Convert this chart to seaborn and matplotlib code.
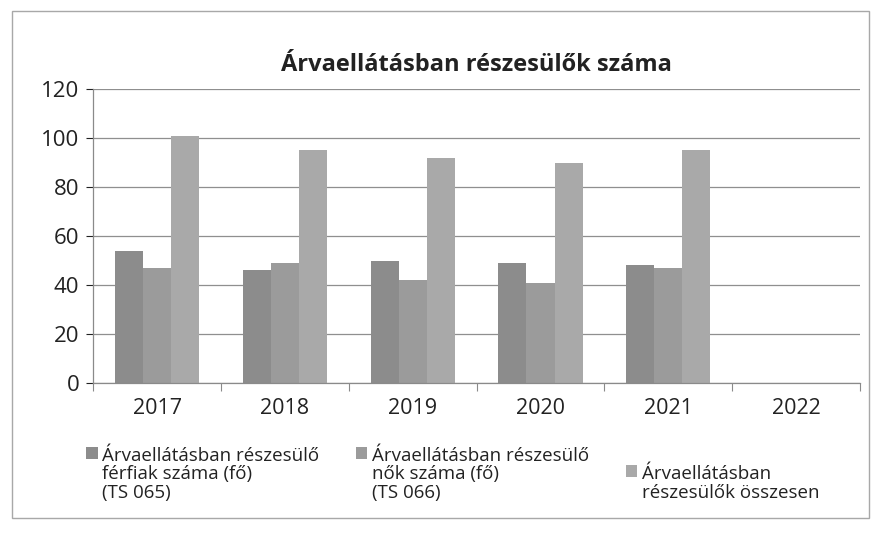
import numpy as np
import pandas as pd
import matplotlib
matplotlib.use("Agg")
import matplotlib.pyplot as plt
import seaborn as sns
from matplotlib.patches import Rectangle

years = ["2017", "2018", "2019", "2020", "2021", "2022"]
men = [54, 46, 50, 49, 48, np.nan]
women = [47, 49, 42, 41, 47, np.nan]
total = [101, 95, 92, 90, 95, np.nan]
series = [
    "Árvaellátásban részesülő\nférfiak száma (fő)\n(TS 065)",
    "Árvaellátásban részesülő\nnők száma (fő)\n(TS 066)",
    "Árvaellátásban\nrészesülők összesen",
]
colors = ["#8c8c8c", "#9b9b9b", "#a9a9a9"]
yticks = [0, 20, 40, 60, 80, 100, 120]

df = pd.DataFrame({
    "year": years * 3,
    "value": men + women + total,
    "series": [series[0]] * 6 + [series[1]] * 6 + [series[2]] * 6,
})

sns.set_theme(style="white")
plt.rcParams["font.family"] = ["Open Sans", "DejaVu Sans"]

fig = plt.figure(figsize=(8.81, 5.34), dpi=100)
ax = fig.add_axes([0.106, 0.283, 0.870, 0.550])

sns.barplot(data=df, x="year", y="value", hue="series", hue_order=series,
            palette=colors, width=0.66, gap=0, saturation=1, ax=ax,
            edgecolor="none", linewidth=0, legend=True)

ax.set_ylim(0, 120)
ax.set_yticks(yticks)
ax.set_xlim(-0.5, len(years) - 0.5)
ax.yaxis.grid(True, color="#8f8f8f", linewidth=0.9)
ax.set_axisbelow(True)
ax.set_xlabel("")
ax.set_ylabel("")
for s in ["top", "right"]:
    ax.spines[s].set_visible(False)
for s in ["left", "bottom"]:
    ax.spines[s].set_color("#8a8a8a")
    ax.spines[s].set_linewidth(0.9)

ax.tick_params(axis="y", labelsize=16, colors="#222222", length=5, width=0.8,
               direction="out", left=True, pad=5)
ax.tick_params(axis="x", labelsize=15.5, colors="#222222", length=0, pad=11)
ax.set_xticks(np.arange(-0.5, len(years) + 0.5, 1), minor=True)
ax.tick_params(axis="x", which="minor", length=6, width=0.8, color="#8a8a8a",
               direction="out", bottom=True)

ax.set_title("Árvaellátásban részesülők száma", fontsize=17, fontweight="bold",
             color="#222222", pad=13)

handles, labels = ax.get_legend_handles_labels()
ax.get_legend().remove()
leg = fig.legend(handles, labels, loc="upper left", bbox_to_anchor=(0.079, 0.195),
                 ncol=3, frameon=False, fontsize=13.5, handlelength=0.6,
                 handleheight=0.6, handletextpad=0.25, columnspacing=1.95,
                 labelcolor="#222222")
for t in leg.get_texts():
    t.set_linespacing(1.05)
try:
    for col in leg._legend_handle_box.get_children():
        for hp in col.get_children():
            hp.align = "top"
except Exception:
    pass

fig.patches.append(Rectangle((0.014, 0.03), 0.972, 0.95, transform=fig.transFigure,
                             fill=False, edgecolor="#a8a8a8", linewidth=1.0))

fig.savefig("out.png", dpi=100)
